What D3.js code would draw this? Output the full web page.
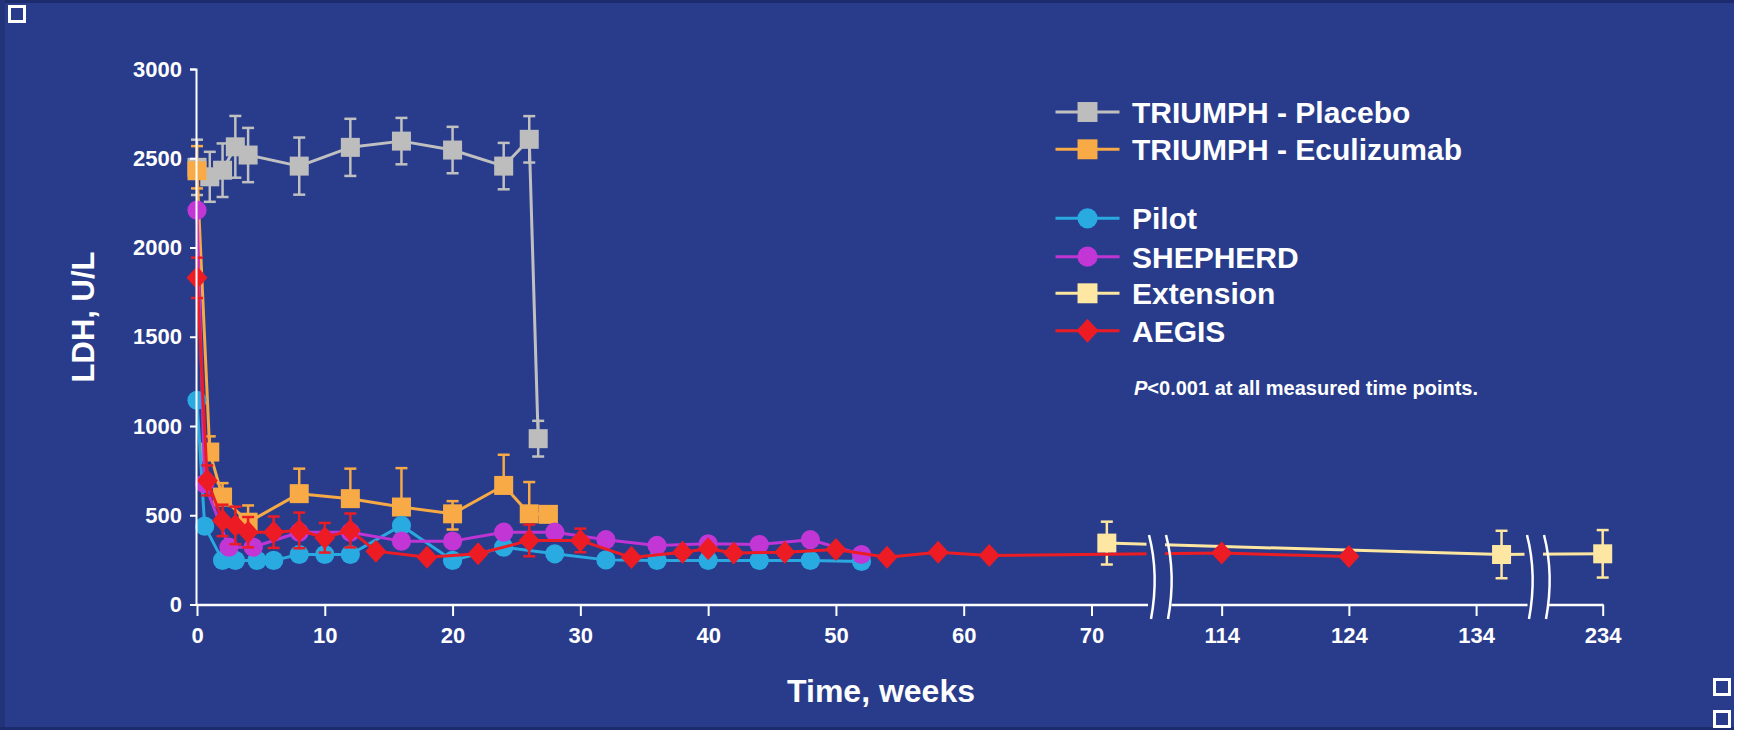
<!DOCTYPE html>
<html><head><meta charset="utf-8">
<script src="https://cdn.jsdelivr.net/npm/d3@7"></script>
<style>
body{margin:0;background:#fff}
svg{display:block}
text{font-family:"Liberation Sans",Arial,Helvetica,sans-serif;font-weight:bold;fill:#fff}
</style>
</head><body>
<svg id="c" width="1746" height="730"></svg>
<script>
// ---------- data ----------
const placeboWeeks = [0, 1, 2, 3, 4, 8, 12, 16, 20, 24, 26, 26.7];
const placeboLDH   = [2449, 2396, 2433, 2564, 2518, 2456, 2561, 2596, 2546, 2456, 2606, 929];
const placeboErr   = [155, 140, 150, 173, 152, 160, 160, 130, 130, 130, 130, 100];

const eculizumabWeeks = [0, 1, 2, 4, 8, 12, 16, 20, 24, 26, 27.5];
const eculizumabLDH   = [2430, 854, 602, 461, 621, 593, 546, 508, 667, 508, 505];
const eculizumabErrUp = [138, 88, 78, 94, 140, 168, 218, 71, 172, 178, 0];
const eculizumabErrDn = [99, 0, 0, 0, 0, 0, 0, 88, 0, 0, 0];

const pilotWeeks = [0, 0.6, 2, 3, 4.7, 6, 8, 10, 12, 16, 20, 24, 28, 32, 36, 40, 44, 48, 52];
const pilotLDH   = [1144, 439, 247, 247, 247, 247, 280, 280, 280, 443, 247, 321, 284, 250, 247, 247, 247, 247, 241];

const shepherdWeeks = [0, 0.6, 2.5, 4.4, 8, 12, 16, 20, 24, 28, 32, 36, 40, 44, 48, 52];
const shepherdLDH   = [2209, 677, 321, 321, 405, 405, 355, 355, 405, 405, 363, 331, 340, 336, 363, 280];

const extensionWeeks = [71.2, 136, 234];
const extensionLDH   = [344, 280, 284];
const extensionErr   = [120, 133, 133];

const aegisWeeks = [0, 0.8, 2, 3, 4, 6, 8, 10, 12, 14, 18, 22, 26, 30, 34, 38, 40, 42, 46, 50, 54, 58, 62, 114, 124];
const aegisLDH   = [1830, 695, 471, 443, 405, 405, 415, 374, 415, 299, 265, 284, 359, 359, 263, 293, 312, 288, 293, 308, 265, 293, 275, 288, 269];
const aegisErr   = [113, 84, 88, 105, 85, 88, 100, 83, 95, 0, 0, 0, 89, 66, 0, 0, 0, 0, 0, 0, 0, 0, 0, 0, 0];

const yTicks = [0, 500, 1000, 1500, 2000, 2500, 3000];
const xTicks = [0, 10, 20, 30, 40, 50, 60, 70, 114, 124, 134, 234];
const xBreaks = [[74.5, 109.94], [138.0, 229.7]];   // hidden week ranges on the axis

const seriesNames = ["TRIUMPH - Placebo", "TRIUMPH - Eculizumab", "Pilot", "SHEPHERD", "Extension", "AEGIS"];

// ---------- setup ----------
const BG = "#283c8b";
const svg = d3.select("#c");
svg.append("rect").attr("width", 1746).attr("height", 730).attr("fill", BG);
svg.append("rect").attr("x", 0).attr("y", 0).attr("width", 1746).attr("height", 3).attr("fill", "#1c2b6e");
svg.append("rect").attr("x", 0).attr("y", 0).attr("width", 5).attr("height", 730).attr("fill", "#22337a");
svg.append("rect").attr("x", 0).attr("y", 727).attr("width", 1746).attr("height", 3).attr("fill", "#1c2b6e");
svg.append("rect").attr("x", 1734).attr("y", 0).attr("width", 12).attr("height", 730).attr("fill", "#ffffff");

// corner boxes
[[9.5, 6.5], [1714.5, 679.5], [1714.5, 711.5]].forEach(p => {
  svg.append("rect").attr("x", p[0]).attr("y", p[1]).attr("width", 15).attr("height", 15)
    .attr("fill", "none").attr("stroke", "#fff").attr("stroke-width", 3);
});

const x = d3.scaleLinear()
  .domain([0, xBreaks[0][0], xBreaks[0][1], xBreaks[1][0], xBreaks[1][1], 234])
  .range([197, 1149, 1170, 1527, 1548, 1602.7]);
const y = d3.scaleLinear().domain([0, 3000]).range([604.5, 69]);

const series = [
  {name: seriesNames[0], color: "#c0c0c0", fill: "#bdbdbd", shape: "square", w: placeboWeeks, v: placeboLDH, up: placeboErr, dn: placeboErr},
  {name: seriesNames[1], color: "#f6a945", fill: "#f7aa46", shape: "square", w: eculizumabWeeks, v: eculizumabLDH, up: eculizumabErrUp, dn: eculizumabErrDn},
  {name: seriesNames[2], color: "#29a9e0", fill: "#29abe2", shape: "circle", w: pilotWeeks, v: pilotLDH},
  {name: seriesNames[3], color: "#c034d4", fill: "#c236d6", shape: "circle", w: shepherdWeeks, v: shepherdLDH},
  {name: seriesNames[4], color: "#fde6a0", fill: "#fde7a2", shape: "square", w: extensionWeeks, v: extensionLDH, up: extensionErr, dn: extensionErr},
  {name: seriesNames[5], color: "#ec1c24", fill: "#ed1c24", shape: "diamond", w: aegisWeeks, v: aegisLDH, up: aegisErr, dn: aegisErr}
];

function drawMarker(g, shape, cx, cy, fill, big) {
  const k = big ? 1.05 : 1;
  if (shape === "square") {
    const s = 19 * k;
    g.append("rect").attr("x", cx - s / 2).attr("y", cy - s / 2).attr("width", s).attr("height", s).attr("fill", fill);
  } else if (shape === "circle") {
    g.append("circle").attr("cx", cx).attr("cy", cy).attr("r", 9.6 * k).attr("fill", fill);
  } else {
    const hw = 10.5 * k, hh = 11.5 * k;
    g.append("path").attr("d", `M${cx},${cy - hh}L${cx + hw},${cy}L${cx},${cy + hh}L${cx - hw},${cy}Z`).attr("fill", fill);
  }
}

const plot = svg.append("g");
const line = d3.line().x(d => x(d[0])).y(d => y(d[1]));

series.forEach(s => {
  const g = plot.append("g");
  const pts = s.w.map((w, i) => [w, s.v[i]]);
  g.append("path").attr("d", line(pts)).attr("fill", "none").attr("stroke", s.color)
    .attr("stroke-width", 3).attr("stroke-linejoin", "round");
  if (s.up) {
    pts.forEach((p, i) => {
      const cx = x(p[0]);
      const u = s.up[i], d = s.dn[i];
      if (u > 0) {
        g.append("line").attr("x1", cx).attr("x2", cx).attr("y1", y(p[1])).attr("y2", y(p[1] + u)).attr("stroke", s.color).attr("stroke-width", 2.5);
        g.append("line").attr("x1", cx - 6).attr("x2", cx + 6).attr("y1", y(p[1] + u)).attr("y2", y(p[1] + u)).attr("stroke", s.color).attr("stroke-width", 2.5);
      }
      if (d > 0) {
        g.append("line").attr("x1", cx).attr("x2", cx).attr("y1", y(p[1])).attr("y2", y(p[1] - d)).attr("stroke", s.color).attr("stroke-width", 2.5);
        g.append("line").attr("x1", cx - 6).attr("x2", cx + 6).attr("y1", y(p[1] - d)).attr("y2", y(p[1] - d)).attr("stroke", s.color).attr("stroke-width", 2.5);
      }
    });
  }
  pts.forEach(p => drawMarker(g, s.shape, x(p[0]), y(p[1]), s.fill));
});

// ---------- breaks (mask + curves) ----------
xBreaks.forEach(b => {
  const a = x(b[0]), c = x(b[1]);
  svg.append("rect").attr("x", a - 2.5).attr("y", 520).attr("width", (c - 5) - (a - 2.5)).attr("height", 80).attr("fill", BG);
});

// ---------- axes ----------
const yAxis = d3.axisLeft(y).tickValues(yTicks).tickSize(6).tickSizeOuter(6).tickPadding(8).tickFormat(d3.format("d"));
const gy = svg.append("g").attr("transform", "translate(196,0)").call(yAxis);
gy.select(".domain").attr("stroke", "#fff").attr("stroke-width", 2);
gy.selectAll(".tick line").attr("stroke", "#fff").attr("stroke-width", 2);
gy.selectAll(".tick text").attr("font-size", 22).attr("fill", "#fff")
  .style("font-family", '"Liberation Sans",Arial,sans-serif').style("font-weight", "bold");

const xAxis = d3.axisBottom(x).tickValues(xTicks).tickSize(11).tickPadding(11).tickFormat(d3.format("d"));
const gx = svg.append("g").attr("transform", "translate(0,605)").call(xAxis);
gx.select(".domain").remove();
gx.selectAll(".tick line").attr("stroke", "#fff").attr("stroke-width", 2);
gx.selectAll(".tick text").attr("font-size", 22).attr("fill", "#fff")
  .style("font-family", '"Liberation Sans",Arial,sans-serif').style("font-weight", "bold");

// axis line segments between breaks
const segs = [[x(0), x(xBreaks[0][0]) - 1], [x(xBreaks[0][1]) + 1.5, x(xBreaks[1][0]) + 0.5], [x(xBreaks[1][1]) + 0.5, x(234) + 1]];
segs.forEach(sg => {
  gx.append("line").attr("x1", sg[0]).attr("x2", sg[1]).attr("y1", 0).attr("y2", 0).attr("stroke", "#fff").attr("stroke-width", 2.5);
});

// break curves
xBreaks.forEach(b => {
  [x(b[0]), x(b[1]) - 4].forEach(bx => {
    svg.append("path").attr("d", `M${bx},535 C${bx + 7},562 ${bx + 7},592 ${bx + 2},619`)
      .attr("fill", "none").attr("stroke", "#fff").attr("stroke-width", 2.5);
  });
});

// titles
svg.append("text").attr("transform", "translate(94,317) rotate(-90)").attr("text-anchor", "middle")
  .attr("font-size", 31).text("LDH, U/L");
svg.append("text").attr("x", 881).attr("y", 702).attr("text-anchor", "middle")
  .attr("font-size", 32).text("Time, weeks");

// ---------- legend ----------
const legendRows = [112, 149.3, 218.3, 256.7, 293.3, 330.7];
const lg = svg.append("g");
series.forEach((s, i) => {
  const cy = legendRows[i];
  lg.append("line").attr("x1", 1055.5).attr("x2", 1119.5).attr("y1", cy).attr("y2", cy).attr("stroke", s.color).attr("stroke-width", 3);
  drawMarker(lg, s.shape, 1087.5, cy, s.fill, true);
  lg.append("text").attr("x", 1132).attr("y", cy + 10.8).attr("font-size", 30).text(s.name);
});
const pt = lg.append("text").attr("x", 1134).attr("y", 394.5).attr("font-size", 20);
pt.append("tspan").attr("font-style", "italic").text("P");
pt.append("tspan").text("<0.001 at all measured time points.");
</script>
</body></html>
